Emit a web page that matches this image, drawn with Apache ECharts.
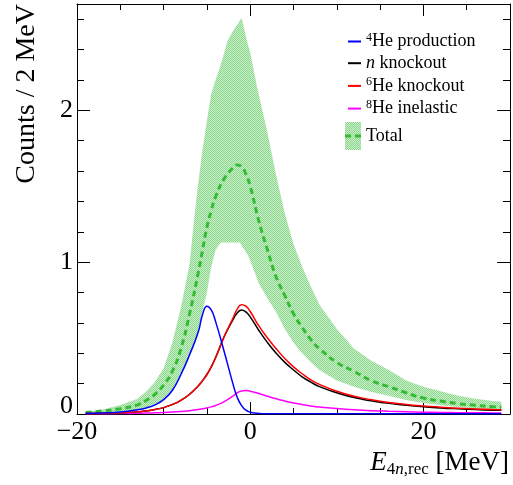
<!DOCTYPE html>
<html><head><meta charset="utf-8">
<script src="https://cdn.jsdelivr.net/npm/echarts@6/dist/echarts.min.js"></script>
<style>html,body{margin:0;padding:0;background:#fff}#c{width:513px;height:485px}</style>
</head><body><div id="c"></div>
<script>
// ---- data ----
const xGrid = [-19,-17,-15,-13,-12,-11,-10,-9,-8,-7,-6,-5.5,-5,-4.5,-4,-3,-2,-1.5,-1,-0.5,0,1,2,3,4,5,6,7,8,10,12,14,16,18,20,22,24,26,28,29];
const he4Production = [0.004,0.007,0.013,0.028,0.04,0.06,0.095,0.155,0.26,0.39,0.54,0.655,0.71,0.685,0.61,0.41,0.2,0.11,0.055,0.025,0.012,0.004,0.002,0.002,0.002,0.002,0.002,0.001,0.001,0.001,0.001,0.001,0.001,0.001,0.001,0.001,0.001,0.001,0.001,0.001];
const nKnockout = [0.003,0.005,0.009,0.014,0.02,0.03,0.042,0.062,0.09,0.13,0.185,0.22,0.26,0.31,0.37,0.51,0.62,0.665,0.685,0.672,0.64,0.55,0.47,0.40,0.34,0.29,0.245,0.21,0.18,0.14,0.108,0.087,0.07,0.058,0.048,0.04,0.034,0.029,0.025,0.024];
const he6Knockout = [0.003,0.005,0.009,0.014,0.02,0.03,0.042,0.062,0.09,0.13,0.185,0.22,0.26,0.31,0.37,0.51,0.63,0.69,0.72,0.71,0.675,0.58,0.50,0.43,0.365,0.31,0.265,0.225,0.195,0.15,0.117,0.094,0.076,0.063,0.053,0.045,0.038,0.033,0.029,0.028];
const he8Inelastic = [0.001,0.002,0.003,0.005,0.006,0.008,0.01,0.013,0.017,0.022,0.03,0.035,0.04,0.047,0.056,0.082,0.118,0.14,0.152,0.155,0.15,0.135,0.117,0.1,0.085,0.072,0.062,0.053,0.046,0.036,0.028,0.022,0.018,0.015,0.012,0.01,0.009,0.008,0.007,0.006];
const totalFit = [0.01,0.02,0.035,0.06,0.09,0.13,0.19,0.28,0.43,0.66,0.93,1.08,1.23,1.34,1.43,1.55,1.62,1.64,1.63,1.58,1.5,1.27,1.08,0.9,0.78,0.66,0.57,0.49,0.43,0.34,0.28,0.22,0.18,0.14,0.105,0.085,0.068,0.057,0.048,0.045];
const bandX = [-19,-17,-15,-13,-12,-11,-10,-9,-8,-7,-6.5,-6,-5.5,-5,-4.5,-4,-3.4,-2.6,-2,-1.2,-1,-0.3,0,0.8,1,2,3,4,5,6,7,8,10,12,14,16,18,20,22,24,26,28,29];
const bandUpper = [0.015,0.03,0.06,0.1,0.15,0.21,0.3,0.47,0.7,0.99,1.27,1.52,1.74,1.93,2.11,2.2,2.3,2.46,2.52,2.59,2.61,2.44,2.38,2.15,2.1,1.85,1.57,1.32,1.12,0.97,0.84,0.72,0.56,0.43,0.35,0.29,0.22,0.18,0.15,0.12,0.1,0.085,0.08];
const bandLower = [0.003,0.006,0.012,0.025,0.037,0.057,0.09,0.15,0.25,0.38,0.46,0.55,0.68,0.8,0.97,1.08,1.13,1.13,1.13,1.13,1.11,1.05,1.01,0.89,0.86,0.76,0.67,0.56,0.47,0.4,0.34,0.29,0.22,0.18,0.145,0.12,0.092,0.072,0.057,0.046,0.038,0.032,0.03];
const xTickLabels = [-20, 0, 20];
const yTickLabels = [0, 1, 2];
const legendNames = ['4He production', 'n knockout', '6He knockout', '8He inelastic'];

// ---- helpers ----
const pairs = (xs, ys) => xs.map((x, i) => [x, ys[i]]);
const FONT = "'Liberation Serif','Times New Roman',serif";
const pc = document.createElement('canvas'); pc.width = 2; pc.height = 2;
const g = pc.getContext('2d');
g.fillStyle = '#cdeecd'; g.fillRect(0, 0, 2, 2);
g.fillStyle = '#8ad98a'; g.fillRect(0, 0, 1, 1); g.fillRect(1, 1, 1, 1);
const bandFill = { image: pc, repeat: 'repeat' };
const GREEN = '#33bb33';
const fmtNum = v => v < 0 ? '\u2212' + Math.abs(v) : String(v);

const legendRich = {
  sup: { fontSize: 12, fontFamily: FONT, color: '#000', verticalAlign: 'top', lineHeight: 15 },
  it: { fontSize: 18, fontFamily: FONT, fontStyle: 'italic', color: '#000', lineHeight: 20 },
  t: { fontSize: 18, fontFamily: FONT, color: '#000', lineHeight: 20 }
};
const legendFmt = name => {
  const m = name.match(/^(\d)(He.*)$/);
  if (m) return '{sup|' + m[1] + '}{t|' + m[2] + '}';
  if (name.startsWith('n ')) return '{it|n}{t|' + name.slice(1) + '}';
  return '{t|' + name + '}';
};

const lineSeries = (name, ys, color) => ({
  name, type: 'line', data: pairs(xGrid, ys), showSymbol: false, symbol: 'none',
  smooth: 0.5, lineStyle: { color, width: 1.5 }, itemStyle: { color },
  silent: true, z: 5
});

const baseX = {
  type: 'value', min: -20, max: 30, interval: 20,
  axisLine: { show: true, onZero: false, lineStyle: { color: '#000', width: 1 } },
  axisTick: { show: true, inside: true, length: 12, lineStyle: { color: '#000', width: 1 } },
  minorTick: { show: true, splitNumber: 4, length: 6, lineStyle: { color: '#000', width: 1 } },
  splitLine: { show: false }, minorSplitLine: { show: false }
};
const baseY = {
  type: 'value', min: 0, max: 2.7, interval: 1,
  axisLine: { show: true, onZero: false, lineStyle: { color: '#000', width: 1 } },
  axisTick: { show: true, inside: true, length: 13, lineStyle: { color: '#000', width: 1 } },
  minorTick: { show: true, splitNumber: 5, length: 7, lineStyle: { color: '#000', width: 1 } },
  splitLine: { show: false }, minorSplitLine: { show: false }
};

const option = {
  animation: false,
  backgroundColor: '#fff',
  grid: { left: 77, right: 1, top: 4, bottom: 71, containLabel: false },
  xAxis: [
    Object.assign({}, baseX, { position: 'bottom',
      axisLabel: { show: true, margin: 5, color: '#000', fontFamily: FONT, fontSize: 26,
        formatter: v => xTickLabels.includes(v) ? fmtNum(v) : '' } }),
    Object.assign({}, baseX, { position: 'top', axisLabel: { show: false } })
  ],
  yAxis: [
    Object.assign({}, baseY, { position: 'left',
      axisLabel: { show: true, margin: 4, color: '#000', fontFamily: FONT, fontSize: 26,
        formatter: v => yTickLabels.includes(v) ? (v === 0 ? '{z|0}' : String(v)) : '',
        rich: { z: { fontFamily: FONT, fontSize: 26, color: '#000', padding: [0, 0, 16, 0] } } } }),
    Object.assign({}, baseY, { position: 'right', axisLabel: { show: false } })
  ],
  legend: [
    { data: legendNames, orient: 'vertical', left: 348, top: 31.5, padding: 0,
      itemGap: 3.7, itemWidth: 13, itemHeight: 2, icon: 'rect',
      itemStyle: { borderWidth: 0 }, selectedMode: false,
      formatter: legendFmt, textStyle: { fontFamily: FONT, fontSize: 18, color: '#000', rich: legendRich } },
    { data: [{ name: 'Total', itemStyle: { color: bandFill, borderWidth: 0 } }], orient: 'vertical',
      left: 345, top: 122, padding: 0, itemWidth: 16, itemHeight: 28, icon: 'rect',
      itemStyle: { borderWidth: 0 }, selectedMode: false,
      formatter: legendFmt, textStyle: { fontFamily: FONT, fontSize: 18, color: '#000', rich: legendRich } }
  ],
  graphic: [
    { type: 'line', z: 100, shape: { x1: 345, y1: 136, x2: 361, y2: 136 },
      style: { stroke: GREEN, lineWidth: 3, lineDash: [6, 4] } },
    { type: 'text', x: 27, y: 4, rotation: Math.PI / 2, z: 100,
      style: { text: 'Counts / 2 MeV', font: '28px ' + FONT, fill: '#000',
        align: 'right', textAlign: 'right', verticalAlign: 'middle', textVerticalAlign: 'middle' } },
    { type: 'text', x: 509, y: 463, z: 100,
      style: { text: '{e|E}{s|4}{si|n}{s|,rec}{t| [MeV]}', fill: '#000',
        align: 'right', textAlign: 'right', verticalAlign: 'middle', textVerticalAlign: 'middle',
        rich: {
          e: { fontFamily: FONT, fontSize: 27, fontStyle: 'italic', lineHeight: 30, verticalAlign: 'middle' },
          s: { fontFamily: FONT, fontSize: 17, lineHeight: 14, verticalAlign: 'bottom' },
          si: { fontFamily: FONT, fontSize: 17, fontStyle: 'italic', lineHeight: 14, verticalAlign: 'bottom' },
          t: { fontFamily: FONT, fontSize: 27, lineHeight: 30, verticalAlign: 'middle' }
        } } }
  ],
  series: [
    { type: 'custom', data: pairs(bandX, bandUpper), encode: { x: 0, y: 1 }, silent: true, z: 1,
      renderItem: (params, api) => {
        if (params.dataIndex !== 0) return null;
        const pts = [];
        for (let i = 0; i < bandX.length; i++) pts.push(api.coord([bandX[i], bandUpper[i]]));
        for (let i = bandX.length - 1; i >= 0; i--) pts.push(api.coord([bandX[i], bandLower[i]]));
        return { type: 'polygon', shape: { points: pts }, style: { fill: bandFill, stroke: null } };
      } },
    { name: 'Total', type: 'line', data: pairs(xGrid, totalFit), symbol: 'none', showSymbol: false,
      smooth: 0.5, lineStyle: { color: GREEN, width: 3, type: [6, 4] },
      itemStyle: { color: GREEN }, silent: true, z: 3 },
    lineSeries('8He inelastic', he8Inelastic, '#ff00ff'),
    lineSeries('n knockout', nKnockout, '#000000'),
    lineSeries('6He knockout', he6Knockout, '#ff0000'),
    lineSeries('4He production', he4Production, '#0000ff')
  ]
};
const chart = echarts.init(document.getElementById('c'), null, { renderer: 'canvas' });
chart.setOption(option);
</script>
</body></html>
